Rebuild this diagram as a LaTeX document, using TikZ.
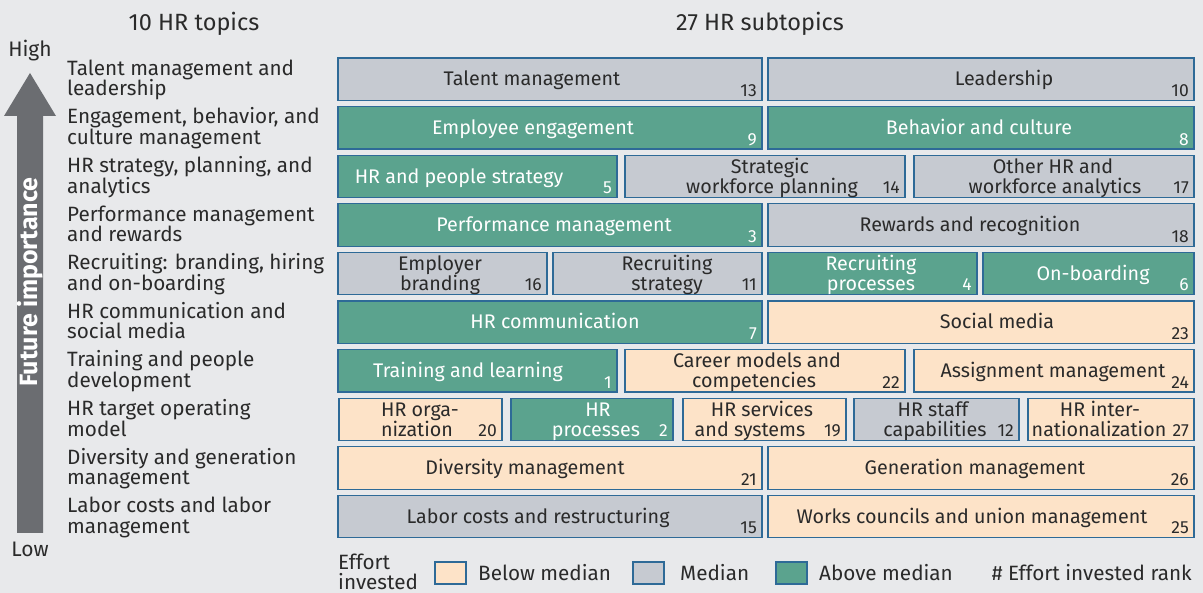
\documentclass[tikz,border=0pt]{standalone}
\usepackage{fontspec}
\setmainfont{Fira Sans}
\usetikzlibrary{calc}
\definecolor{bg}{HTML}{E8E9EB}
\definecolor{grn}{HTML}{5BA38E}
\definecolor{gry}{HTML}{C6CAD1}
\definecolor{pch}{HTML}{FDE3C8}
\definecolor{bdr}{HTML}{2E6A97}
\definecolor{arr}{HTML}{6B6D71}
\definecolor{ink}{HTML}{2A2A2A}
\newcommand\hrbox[7]{%
  \node[boxs, fill=#5, minimum width={#3-#2}] (#1) at ({(#2+#3)/2},{#4+21.25}) {};
  \node[rk, text=#7] (#1-rank) at ({#3-5},{#4+38.5}) {#6};}
\begin{document}
\begin{tikzpicture}[x=1pt,y=-1pt,
  boxs/.style={draw=bdr, line width=1.2pt, rectangle, inner sep=0pt, outer sep=0pt, minimum height=42.5pt},
  bt/.style={font=\fontsize{19.7}{20}\selectfont, text=ink, inner sep=0pt, anchor=base},
  wt/.style={bt, text=white},
  rk/.style={font=\fontsize{17.5}{18}\selectfont, text=ink, inner sep=0pt, anchor=base east},
  topic/.style={font=\fontsize{20.7}{21}\selectfont, text=ink, inner sep=0pt, anchor=base west},
  hdr/.style={font=\fontsize{23.5}{24}\selectfont, text=ink, inner sep=0pt, anchor=base},
  hl/.style={font=\fontsize{21}{21}\selectfont, text=ink, inner sep=0pt, anchor=base},
  lgbox/.style={draw=bdr, line width=1.2pt, inner sep=0pt, outer sep=0pt, minimum width=31pt, minimum height=22pt},
]
\fill[bg] (0,0) rectangle (1203,593);
\useasboundingbox (0,0) rectangle (1203,593);

% headers
\node[hdr] (h1) at (194,31) {10 HR topics};
\node[hdr] (h2) at (760,31) {27 HR subtopics};

% arrow
\fill[arr] (17,116) -- (4,116) -- (30,73) -- (56,116) -- (43,116) -- (43,533) -- (17,533) -- cycle;
\node[font=\fontsize{25}{25}\bfseries, text=white, rotate=90, inner sep=0pt] (fi) at (30,282) {Future importance};
\node[hl] (hi) at (30,57) {High};
\node[hl] (lo) at (30,556) {Low};

% topics
\foreach \t/\a/\b [count=\i] in {
  58/{Talent management and}/{leadership},
  106.6/{Engagement, behavior, and}/{culture management},
  155.2/{HR strategy, planning, and}/{analytics},
  203.8/{Performance management}/{and rewards},
  252.4/{Recruiting: branding, hiring}/{and on-boarding},
  301/{HR communication and}/{social media},
  349.6/{Training and people}/{development},
  398.2/{HR target operating}/{model},
  446.8/{Diversity and generation}/{management},
  495.4/{Labor costs and labor}/{management}} {
  \node[topic] (tp\i a) at (67,\t+17.3) {\a};
  \node[topic] (tp\i b) at (67,\t+38) {\b};
}

% row 1
\hrbox{tm}{338}{762}{58}{gry}{13}{ink}
\node[bt] (tm-t) at (532,86) {Talent management};
\hrbox{ld}{768}{1194}{58}{gry}{10}{ink}
\node[bt] (ld-t) at (1004,86) {Leadership};
% row 2
\hrbox{ee}{338}{762}{106.6}{grn}{9}{white}
\node[wt] (ee-t) at (533,134.6) {Employee engagement};
\hrbox{bc}{768}{1194}{106.6}{grn}{8}{white}
\node[wt] (bc-t) at (979,134.6) {Behavior and culture};
% row 3
\hrbox{hps}{338}{617}{155.2}{grn}{5}{white}
\node[wt] (hps-t) at (459,183.2) {HR and people strategy};
\hrbox{swp}{625}{905}{155.2}{gry}{14}{ink}
\node[bt] (swp-a) at (770,173.2) {Strategic};
\node[bt] (swp-b) at (772,193.2) {workforce planning};
\hrbox{oha}{914}{1194}{155.2}{gry}{17}{ink}
\node[bt] (oha-a) at (1053,173.2) {Other HR and};
\node[bt] (oha-b) at (1055,193.2) {workforce analytics};
% row 4
\hrbox{pm}{338}{762}{203.8}{grn}{3}{white}
\node[wt] (pm-t) at (554,231.8) {Performance management};
\hrbox{rr}{768}{1194}{203.8}{gry}{18}{ink}
\node[bt] (rr-t) at (970,231.8) {Rewards and recognition};
% row 5
\hrbox{eb}{338}{547}{252.4}{gry}{16}{ink}
\node[bt] (eb-a) at (440,270.4) {Employer};
\node[bt] (eb-b) at (440,290.4) {branding};
\hrbox{rs}{553}{762}{252.4}{gry}{11}{ink}
\node[bt] (rs-a) at (667,270.4) {Recruiting};
\node[bt] (rs-b) at (667,290.4) {strategy};
\hrbox{rp}{768}{977}{252.4}{grn}{4}{white}
\node[wt] (rp-a) at (871,270.4) {Recruiting};
\node[wt] (rp-b) at (871,290.4) {processes};
\hrbox{ob}{983}{1194}{252.4}{grn}{6}{white}
\node[wt] (ob-t) at (1093,280.4) {On-boarding};
% row 6
\hrbox{hc}{338}{762}{301}{grn}{7}{white}
\node[wt] (hc-t) at (555,329) {HR communication};
\hrbox{sm}{768}{1194}{301}{pch}{23}{ink}
\node[bt] (sm-t) at (997,329) {Social media};
% row 7
\hrbox{tl}{338}{617}{349.6}{grn}{1}{white}
\node[wt] (tl-t) at (468,377.6) {Training and learning};
\hrbox{cm}{625}{905}{349.6}{pch}{22}{ink}
\node[bt] (cm-a) at (757,367.6) {Career models and};
\node[bt] (cm-b) at (754,387.6) {competencies};
\hrbox{am}{914}{1194}{349.6}{pch}{24}{ink}
\node[bt] (am-t) at (1053,377.6) {Assignment management};
% row 8
\hrbox{ho}{339}{502}{398.2}{pch}{20}{ink}
\node[bt] (ho-a) at (420,416.2) {HR orga-};
\node[bt] (ho-b) at (417,436.2) {nization};
\hrbox{hp}{511}{673}{398.2}{grn}{2}{white}
\node[wt] (hp-a) at (598,416.2) {HR};
\node[wt] (hp-b) at (596,436.2) {processes};
\hrbox{hs}{683}{846}{398.2}{pch}{19}{ink}
\node[bt] (hs-a) at (762,416.2) {HR services};
\node[bt] (hs-b) at (750,436.2) {and systems};
\hrbox{hsc}{854}{1019}{398.2}{gry}{12}{ink}
\node[bt] (hsc-a) at (933,416.2) {HR staff};
\node[bt] (hsc-b) at (935,436.2) {capabilities};
\hrbox{hin}{1028}{1194}{398.2}{pch}{27}{ink}
\node[bt] (hin-a) at (1100,416.2) {HR inter-};
\node[bt] (hin-b) at (1099,436.2) {nationalization};
% row 9
\hrbox{dm}{338}{762}{446.8}{pch}{21}{ink}
\node[bt] (dm-t) at (525,474.8) {Diversity management};
\hrbox{gm}{768}{1194}{446.8}{pch}{26}{ink}
\node[bt] (gm-t) at (975,474.8) {Generation management};
% row 10
\hrbox{lc}{338}{762}{495.4}{gry}{15}{ink}
\node[bt] (lc-t) at (538,523.4) {Labor costs and restructuring};
\hrbox{wc}{768}{1194}{495.4}{pch}{25}{ink}
\node[bt] (wc-t) at (972,523.4) {Works councils and union management};

% legend
\node[topic] (lg1) at (338,569) {Effort};
\node[topic] (lg2) at (338,589) {invested};
\node[lgbox, fill=pch] (lsq1) at (450.5,573) {};
\node[topic] (lt1) at (478,580) {Below median};
\node[lgbox, fill=gry] (lsq2) at (648.5,573) {};
\node[topic] (lt2) at (680,580) {Median};
\node[lgbox, fill=grn] (lsq3) at (791.5,573) {};
\node[topic] (lt3) at (819,580) {Above median};
\node[topic, anchor=base east] (lt4) at (1192,580) {\# Effort invested rank};
\end{tikzpicture}
\end{document}
